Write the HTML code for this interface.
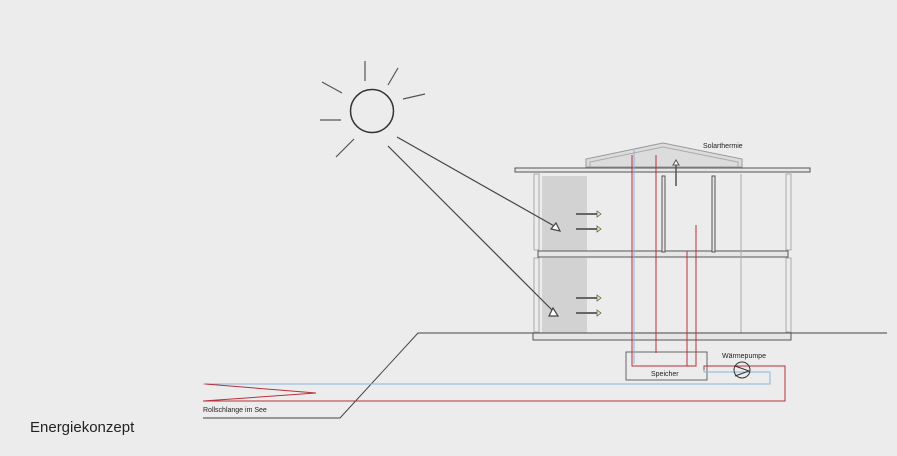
<!DOCTYPE html>
<html><head><style>body{margin:0;background:#ececec}svg{display:block}text{font-family:"Liberation Sans",sans-serif;fill:#222}</style></head><body>
<svg width="897" height="456" viewBox="0 0 897 456" xmlns="http://www.w3.org/2000/svg">
<rect width="897" height="456" fill="#ececec"/>
<g stroke="#555" stroke-width="1.2" fill="none">
<circle cx="372" cy="111" r="21.5" stroke="#333" stroke-width="1.5"/>
<line x1="365" y1="61" x2="365" y2="81"/><line x1="398" y1="68" x2="388" y2="85"/>
<line x1="403" y1="99" x2="425" y2="94"/><line x1="322" y1="82" x2="342" y2="93"/>
<line x1="320" y1="120" x2="341" y2="120"/><line x1="336" y1="157" x2="354" y2="139"/>
</g>
<rect x="542" y="176" width="45" height="75" fill="#d2d2d2"/>
<rect x="542" y="258" width="45" height="75" fill="#d2d2d2"/>
<polygon points="586,167 586,159 663,143 742,159 742,167" fill="#dcdcdc" stroke="#999"/>
<polyline points="590,167 590,162 663,147 738,162 738,167" fill="none" stroke="#aaa"/>
<g stroke="#555" fill="#e6e6e6">
<rect x="515" y="168" width="295" height="4"/>
<rect x="538" y="251" width="250" height="6"/>
<rect x="533" y="333" width="258" height="7"/>
<rect x="662" y="176" width="3" height="76"/>
<rect x="712" y="176" width="3" height="76"/>
</g>
<g stroke="#aaa" fill="none">
<rect x="534" y="174" width="5" height="76"/><rect x="534" y="258" width="5" height="74"/>
<rect x="786" y="174" width="5" height="76"/><rect x="786" y="258" width="5" height="74"/>
<line x1="741" y1="174" x2="741" y2="333"/>
</g>
<line x1="540" y1="172" x2="788" y2="172" stroke="#555"/>
<polyline points="203,418 340,418 418,333 887,333" fill="none" stroke="#444"/>
<g stroke="#444" fill="#fff" stroke-width="1.2">
<line x1="397" y1="137" x2="556" y2="227"/><line x1="388" y1="146" x2="554" y2="312"/>
<polygon points="560,231 551,229 556,223"/><polygon points="558,316 549,316 553,308"/>
</g>
<g stroke="#666" stroke-width="2" fill="#ee9">
<line x1="576" y1="214" x2="597" y2="214"/><line x1="576" y1="229" x2="597" y2="229"/>
<line x1="576" y1="298" x2="597" y2="298"/><line x1="576" y1="313" x2="597" y2="313"/>
</g>
<g fill="#ee9" stroke="#555" stroke-width="0.7">
<polygon points="597,211 601,214 597,217"/><polygon points="597,226 601,229 597,232"/>
<polygon points="597,295 601,298 597,301"/><polygon points="597,310 601,313 597,316"/>
</g>
<line x1="676" y1="163" x2="676" y2="186" stroke="#555" stroke-width="1.5"/>
<polygon points="673,165 676,160 679,165" fill="#fff" stroke="#555"/>
<rect x="626" y="352" width="81" height="28" fill="none" stroke="#666"/>
<g fill="none" stroke-width="1">
<polyline points="634,150 634,364" stroke="#8ab4d8"/>
<polyline points="656,155 656,353" stroke="#b8323a"/>
<polyline points="632,155 632,366 696,366 696,225" stroke="#b8323a"/>
<polyline points="687,251 687,366" stroke="#b8323a"/>
<polyline points="203,384 770,384 770,372 704,372 704,366" stroke="#8ab4d8"/>
<polyline points="203,401 785,401 785,366 704,366 704,370" stroke="#b8323a"/>
<polyline points="205,384 316,393 203,401" stroke="#b8323a"/>
</g>
<circle cx="742" cy="370" r="8" fill="none" stroke="#333"/>
<polyline points="735,366 749,371 735,376" fill="none" stroke="#333"/>
<text x="703" y="148" font-size="7">Solarthermie</text>
<text x="722" y="358" font-size="7">Wärmepumpe</text>
<text x="651" y="376" font-size="7">Speicher</text>
<text x="203" y="412" font-size="7">Rollschlange im See</text>
<text x="30" y="432" font-size="15">Energiekonzept</text>
</svg>
</body></html>
